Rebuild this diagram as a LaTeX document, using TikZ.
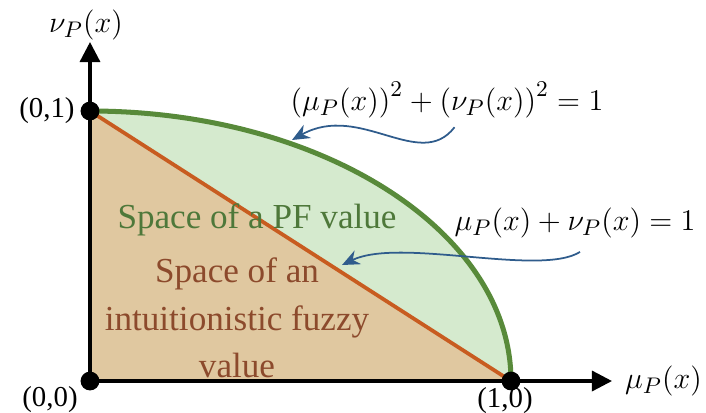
\documentclass[tikz,border=0pt]{standalone}
\usepackage{fontspec}
\setmainfont{Liberation Serif}
\definecolor{pfgreen}{RGB}{213,234,206}
\definecolor{iftan}{RGB}{224,200,160}
\definecolor{arcgreen}{RGB}{88,138,58}
\definecolor{lineorange}{RGB}{200,92,32}
\definecolor{pftext}{RGB}{78,120,58}
\definecolor{iftext}{RGB}{140,74,44}
\definecolor{callblue}{RGB}{47,92,140}
\usetikzlibrary{
  arrows.meta,
  positioning
}
\tikzset{
  dotnode/.style={circle, fill=black, inner sep=0pt, minimum size=7.5pt},
  ptlabel/.style={font=\fontsize{11.5}{13}\selectfont, inner sep=1pt},
  axlabel/.style={font=\fontsize{13}{15}\selectfont, inner sep=1pt},
  eqlabel/.style={font=\fontsize{13}{15}\selectfont},
  axis/.style={-{Triangle[length=8pt, width=8pt]}, line width=1.3pt},
  callout/.style={-{Stealth[length=7pt, width=6pt]}, line width=0.7pt, callblue},
}

\begin{document}
\begin{tikzpicture}[x=0.014cm, y=0.014cm]
  \useasboundingbox (0,0) rectangle (706,412);

  % Regions
  \fill[pfgreen] (90,31) -- (90,301) arc[start angle=90, end angle=0,
    x radius=421, y radius=270] -- cycle;
  \fill[iftan] (90,31) -- (90,301) -- (511,31) -- cycle;

  % Axes
  \coordinate (ytip) at (90,370);
  \coordinate (xtip) at (612,31);
  \draw[axis] (90,31) -- (xtip);
  \draw[axis] (90,31) -- (ytip);

  % Boundaries
  \draw[arcgreen, line width=2pt] (90,301) arc[start angle=90, end angle=0,
    x radius=421, y radius=270];
  \draw[lineorange, line width=1.5pt] (90,301) -- (511,31);

  % Points
  \node[dotnode] (o) at (90,31) {};
  \node[dotnode] (a) at (90,301) {};
  \node[dotnode] (b) at (511,31) {};
  \node[ptlabel, left=1pt of a] (alab) {(0,1)};
  \node[ptlabel] (olab) at (50,12) {(0,0)};
  \node[ptlabel] (blab) at (505,11) {(1,0)};

  % Axis labels
  \node[axlabel] (ylab) at (86,387) {$\nu_P(x)$};
  \node[axlabel, right=4pt of xtip] (xlab) {$\mu_P(x)$};

  % Region labels
  \node[font=\fontsize{14}{16}\selectfont, text=pftext] (pf) at (257,192)
    {Space of a PF value};
  \node[font=\fontsize{14}{19}\selectfont, text=iftext, align=center] (ifz) at (237,94)
    {Space of an\\intuitionistic fuzzy\\value};

  % Equations and callouts
  \node[eqlabel] (eqa) at (447,312)
    {$\big(\mu_P(x)\big)^2+\big(\nu_P(x)\big)^2=1$};
  \node[eqlabel] (eqb) at (575,189) {$\mu_P(x)+\nu_P(x)=1$};
  \coordinate (onarc) at (292,272);
  \coordinate (online) at (342,147);
  \draw[callout] ([xshift=3pt]eqa.south) .. controls (420,240) and (360,310) .. (onarc);
  \draw[callout] ([xshift=2pt, yshift=-2pt]eqb.south) .. controls (540,135) and (400,175) .. (online);
\end{tikzpicture}
\end{document}
